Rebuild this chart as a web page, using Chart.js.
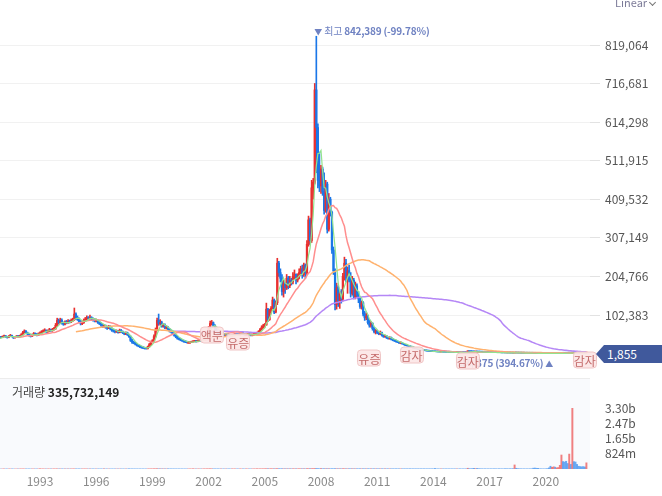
<!DOCTYPE html>
<html><head><meta charset="utf-8">
<script src="https://cdn.jsdelivr.net/npm/chart.js@4.4.1/dist/chart.umd.min.js"></script>
<style>
html,body{margin:0;padding:0;background:#fff;}
#wrap{position:relative;width:662px;height:496px;overflow:hidden;font-family:"Noto Sans CJK KR","Noto Sans",sans-serif;}
canvas{position:absolute;left:0;}
#priceCanvas{top:0;}
#volCanvas{top:378px;}
.ev{position:absolute;background:rgba(252,230,230,0.93);border:1px solid #f0c6c6;border-radius:4px;color:#c46a6a;font-size:12px;line-height:15px;padding:0;transform:translate(-50%,-50%);white-space:nowrap;}
.mark{position:absolute;color:#6f82c2;font-size:10px;line-height:14px;white-space:nowrap;letter-spacing:-0.2px;}
.mark b{font-weight:700;}
.mark i{font-style:normal;font-size:8px;}
#tag{position:absolute;left:596px;width:66px;height:18px;background:#40599c;color:#fff;font-size:12px;line-height:18px;box-sizing:border-box;padding-left:11px;clip-path:polygon(0 50%,8px 0,100% 0,100% 100%,8px 100%);}
#lin{position:absolute;left:615px;top:-5px;font-size:11px;line-height:14px;color:#7c7b98;}
#chev{position:absolute;left:650px;top:0px;width:4px;height:4px;border-right:1.2px solid #777;border-bottom:1.2px solid #777;transform:rotate(45deg);}
#volTitle{position:absolute;left:12px;top:384px;font-size:12px;line-height:16px;color:#444;}
#volTitle b{color:#222;}
</style></head>
<body>
<div id="wrap">
<canvas id="priceCanvas" width="662" height="378"></canvas>
<canvas id="volCanvas" width="662" height="118"></canvas>
<div id="lin">Linear</div><div id="chev"></div>
</div>
<script>
// ---- data (monthly, Jan 1990 .. Mar 2022) ----
const startYear = 1990;
const opens = [
47000,48000,46000,44000,42000,40000,41000,39000,38000,40000,42000,44000,
43000,45000,47000,44000,43000,46000,48000,45000,42000,44000,46000,45000,
47000,50000,56000,60000,55000,52000,48000,46000,50000,53000,51000,49000,
52000,55000,58000,60000,62000,58000,60000,63000,61000,64000,66000,75000,
88000,82000,88000,80000,78000,84000,82000,86000,84000,88000,90000,105000,
95000,92000,85000,80000,82000,88000,92000,95000,94000,96000,92000,90000,
88000,88000,84000,80000,76000,72000,74000,70000,68000,72000,66000,62000,
60000,58000,60000,56000,62000,58000,55000,52000,55000,50000,45000,35000,
30000,28000,25000,22000,20000,18000,16000,15000,14000,13000,18000,24000,
30000,34000,45000,62000,88000,80000,82000,72000,76000,68000,70000,64000,
60000,58000,52000,48000,44000,40000,38000,36000,34000,32000,31000,30000,
30000,30000,31000,32000,33000,32000,34000,35000,34000,38000,44000,50000,
55000,68000,80000,82000,75000,65000,58000,55000,52000,54000,52000,50000,
52000,50000,48000,47000,49000,50000,52000,51000,50000,52000,53000,52000,
50000,50000,51000,50000,49000,50000,52000,53000,55000,58000,64000,70000,
74000,76000,118000,90000,115000,120000,142000,110000,135000,240000,215000,200000,
165000,185000,175000,200000,180000,195000,190000,205000,210000,195000,205000,215000,
225000,210000,235000,215000,290000,355000,300000,440000,455000,700000,600000,460000,
445000,490000,430000,380000,450000,330000,410000,375000,275000,220000,130000,175000,
140000,160000,145000,205000,240000,200000,220000,195000,160000,195000,150000,180000,
155000,145000,125000,135000,105000,95000,100000,82000,75000,80000,66000,58000,
60000,55000,52000,56000,48000,45000,47000,42000,40000,43000,38000,36000,
34000,32000,30000,28000,29000,26000,24000,22000,21000,19000,18000,17000,
15000,14000,13000,12000,11000,10000,9000,8000,7500,7000,6500,6000,
5500,5200,5000,4800,4500,4300,4400,4200,4000,3900,3800,3600,
3500,3400,3300,3200,3400,3100,3000,2900,2800,2700,5200,5800,
5500,5200,5000,4600,4800,4400,4200,4000,3800,3600,3500,3300,
3200,3100,3000,2800,2700,2600,2500,2400,2300,2200,2100,2000,
1900,1800,1700,1600,1500,2200,1800,1600,1500,1400,1300,1200,
1100,1050,1000,950,900,850,800,750,700,680,650,600,
580,550,500,420,400,450,500,480,520,600,700,900,
880,950,1050,1000,1300,1200,2500,1900,1700,1600,1500,1400,
1300,1900,1600];
const highs = [
50000,49000,47000,45000,43000,43000,42000,40000,42000,44000,46000,46000,
47000,49000,48000,46000,48000,51000,49000,46000,46000,48000,48000,49000,
53000,59000,63000,61000,57000,54000,50000,52000,56000,55000,53000,55000,
58000,61000,63000,66000,63000,63000,67000,65000,67000,70000,80000,94000,
92000,94000,92000,84000,87000,88000,90000,89000,92000,94000,121000,108000,
100000,95000,88000,86000,92000,96000,100000,98000,102000,98000,95000,93000,
92000,90000,87000,83000,79000,77000,76000,73000,75000,74000,69000,65000,
63000,63000,62000,65000,64000,60000,57000,58000,57000,52000,47000,38000,
33000,30000,27000,24000,22000,20000,18000,17000,16000,20000,27000,33000,
37000,50000,68000,94000,105000,90000,86000,80000,79000,74000,72000,67000,
63000,60000,55000,50000,46000,42000,40000,38000,36000,34000,33000,32000,
32000,33000,34000,35000,35000,36000,37000,37000,40000,47000,53000,58000,
72000,86000,88000,84000,77000,67000,60000,57000,56000,56000,54000,54000,
54000,52000,50000,51000,52000,54000,54000,53000,54000,55000,55000,54000,
52000,53000,53000,52000,52000,54000,55000,57000,61000,67000,74000,78000,
80000,134000,120000,118000,125000,150000,145000,140000,253000,245000,225000,210000,
195000,190000,210000,205000,205000,200000,215000,222000,212000,212000,225000,232000,
235000,240000,238000,300000,365000,360000,460000,465000,717000,842389,610000,535000,
500000,495000,480000,460000,455000,425000,415000,378000,283000,225000,187000,180000,
165000,170000,213000,256000,250000,230000,235000,215000,205000,200000,190000,185000,
165000,150000,140000,138000,112000,108000,102000,90000,85000,82000,70000,64000,
62000,58000,60000,57000,50000,49000,48000,44000,45000,44000,40000,38000,
36000,34000,31000,31000,30000,27000,25000,23000,22000,20000,19000,18000,
16000,15000,14000,13000,12000,11000,10000,9000,8000,7500,7000,6500,
5800,5600,5300,5000,4700,4700,4600,4400,4200,4100,4000,3800,
3700,3600,3500,3600,3500,3300,3200,3100,2900,2800,6500,6000,
5800,5600,5200,5100,4900,4600,4300,4100,3900,3700,3600,3400,
3400,3300,3100,3000,2900,2800,2700,2600,2500,2400,2300,2200,
2000,1900,1800,1700,2800,2300,1900,1700,1600,1500,1400,1300,
1150,1100,1050,1000,1000,950,850,800,760,720,700,650,
600,580,520,450,480,530,520,560,650,760,1000,950,
950,1000,1100,1500,1350,3500,2600,2000,1800,1700,1550,1450,
1350,2000,2100];
const lows = [
45000,45000,43000,41000,39000,39000,38000,36000,37000,39000,41000,42000,
42000,44000,43000,41000,42000,45000,44000,40000,41000,43000,44000,44000,
46000,49000,54000,53000,50000,46000,44000,45000,49000,49000,47000,48000,
50000,53000,56000,58000,56000,56000,58000,59000,59000,62000,64000,73000,
78000,80000,78000,75000,76000,79000,80000,81000,82000,85000,88000,90000,
88000,82000,76000,77000,80000,85000,89000,90000,91000,89000,86000,84000,
84000,80000,77000,73000,69000,69000,67000,64000,66000,63000,59000,57000,
55000,56000,54000,55000,56000,53000,50000,50000,48000,43000,32000,27000,
26000,23000,20000,18000,16000,14000,13000,12000,12000,12000,17000,22000,
28000,32000,43000,60000,75000,76000,70000,70000,66000,65000,62000,57000,
55000,50000,46000,42000,38000,36000,34000,32000,30000,29000,28000,28000,
28000,29000,30000,31000,30000,31000,33000,32000,33000,37000,42000,48000,
53000,65000,76000,72000,63000,56000,53000,50000,50000,50000,48000,48000,
48000,46000,45000,45000,47000,48000,49000,48000,48000,50000,50000,48000,
48000,48000,49000,47000,47000,48000,50000,51000,53000,56000,62000,67000,
70000,75000,85000,88000,108000,116000,106000,108000,130000,205000,190000,155000,
150000,160000,170000,172000,175000,182000,185000,198000,185000,190000,198000,208000,
200000,205000,200000,210000,285000,290000,295000,410000,450000,480000,440000,430000,
425000,420000,370000,375000,320000,325000,365000,266000,210000,116000,118000,125000,
120000,134000,140000,195000,190000,160000,190000,150000,155000,145000,145000,150000,
135000,120000,118000,100000,88000,90000,78000,70000,70000,62000,55000,52000,
53000,50000,50000,46000,43000,43000,40000,38000,38000,36000,34000,32000,
30000,29000,27000,26000,25000,23000,21000,20000,18000,17000,16000,14000,
13000,12000,11000,10000,9000,8000,7500,7000,6500,6000,5500,5200,
5000,4800,4600,4300,4100,4200,4000,3800,3700,3600,3400,3300,
3300,3200,3100,3100,3000,2900,2800,2700,2600,2500,5000,5300,
5000,4800,4400,4500,4200,4000,3800,3600,3400,3300,3100,3000,
3000,2900,2700,2600,2500,2400,2300,2200,2100,2000,1900,1800,
1700,1600,1500,1400,1450,1700,1500,1400,1300,1200,1100,1000,
1000,950,900,850,800,750,700,650,640,620,580,560,
530,480,375,390,390,440,460,470,510,590,690,780,
800,850,950,980,1150,1150,1800,1650,1550,1450,1350,1250,
1100,1500,1550];
const closes = [
48000,46000,44000,42000,40000,41000,39000,38000,40000,42000,44000,43000,
45000,47000,44000,43000,46000,48000,45000,42000,44000,46000,45000,47000,
50000,56000,60000,55000,52000,48000,46000,50000,53000,51000,49000,52000,
55000,58000,60000,62000,58000,60000,63000,61000,64000,66000,75000,88000,
82000,88000,80000,78000,84000,82000,86000,84000,88000,90000,105000,95000,
92000,85000,80000,82000,88000,92000,95000,94000,96000,92000,90000,88000,
88000,84000,80000,76000,72000,74000,70000,68000,72000,66000,62000,60000,
58000,60000,56000,62000,58000,55000,52000,55000,50000,45000,35000,30000,
28000,25000,22000,20000,18000,16000,15000,14000,13000,18000,24000,30000,
34000,45000,62000,88000,80000,82000,72000,76000,68000,70000,64000,60000,
58000,52000,48000,44000,40000,38000,36000,34000,32000,31000,30000,30000,
30000,31000,32000,33000,32000,34000,35000,34000,38000,44000,50000,55000,
68000,80000,82000,75000,65000,58000,55000,52000,54000,52000,50000,52000,
50000,48000,47000,49000,50000,52000,51000,50000,52000,53000,52000,50000,
50000,51000,50000,49000,50000,52000,53000,55000,58000,64000,70000,74000,
76000,118000,90000,115000,120000,142000,110000,135000,240000,215000,200000,165000,
185000,175000,200000,180000,195000,190000,205000,210000,195000,205000,215000,225000,
210000,235000,215000,290000,355000,300000,440000,455000,700000,600000,460000,445000,
490000,430000,380000,450000,330000,410000,375000,275000,220000,130000,175000,140000,
160000,145000,205000,240000,200000,220000,195000,160000,195000,150000,180000,155000,
145000,125000,135000,105000,95000,100000,82000,75000,80000,66000,58000,60000,
55000,52000,56000,48000,45000,47000,42000,40000,43000,38000,36000,34000,
32000,30000,28000,29000,26000,24000,22000,21000,19000,18000,17000,15000,
14000,13000,12000,11000,10000,9000,8000,7500,7000,6500,6000,5500,
5200,5000,4800,4500,4300,4400,4200,4000,3900,3800,3600,3500,
3400,3300,3200,3400,3100,3000,2900,2800,2700,2600,5800,5500,
5200,5000,4600,4800,4400,4200,4000,3800,3600,3500,3300,3200,
3100,3000,2800,2700,2600,2500,2400,2300,2200,2100,2000,1900,
1800,1700,1600,1500,2200,1800,1600,1500,1400,1300,1200,1100,
1050,1000,950,900,850,800,750,700,680,650,600,580,
550,500,420,400,450,500,480,520,600,700,900,800,
850,900,1000,1300,1200,2500,1900,1700,1600,1500,1400,1300,
1150,1600,1855];
const volumes = [
2.1e6,1.8e6,1.6e6,1.5e6,1.7e6,1.4e6,1.3e6,1.6e6,1.5e6,1.9e6,2.2e6,1.8e6,
1.9e6,2.3e6,1.7e6,1.5e6,2.0e6,2.4e6,1.8e6,1.6e6,1.7e6,2.1e6,1.9e6,2.2e6,
2.5e6,3.1e6,3.4e6,2.6e6,2.2e6,1.9e6,1.8e6,2.3e6,2.6e6,2.1e6,1.9e6,2.4e6,
2.6e6,2.9e6,3.0e6,3.2e6,2.7e6,2.5e6,3.1e6,2.6e6,3.0e6,3.3e6,4.6e6,6.2e6,
5.1e6,5.4e6,4.2e6,3.6e6,4.0e6,3.5e6,3.9e6,3.4e6,3.8e6,4.1e6,6.8e6,5.0e6,
4.4e6,3.9e6,3.5e6,3.2e6,3.6e6,3.9e6,4.1e6,3.6e6,3.8e6,3.4e6,3.1e6,2.9e6,
3.0e6,2.8e6,2.6e6,2.5e6,2.4e6,2.6e6,2.3e6,2.2e6,2.5e6,2.4e6,2.3e6,2.6e6,
2.4e6,2.7e6,2.5e6,3.0e6,2.6e6,2.4e6,2.2e6,2.5e6,2.7e6,3.1e6,4.2e6,4.8e6,
4.0e6,3.5e6,3.1e6,2.8e6,2.9e6,3.2e6,2.7e6,2.6e6,3.0e6,4.4e6,5.6e6,6.3e6,
7.2e6,8.9e6,11.5e6,14.2e6,12.0e6,9.6e6,8.4e6,7.9e6,6.8e6,6.2e6,5.9e6,5.4e6,
5.8e6,5.1e6,4.6e6,4.2e6,3.9e6,3.6e6,3.4e6,3.3e6,3.5e6,3.2e6,3.0e6,2.9e6,
3.1e6,2.9e6,3.0e6,3.3e6,3.1e6,3.4e6,3.2e6,3.0e6,4.1e6,5.2e6,6.0e6,6.6e6,
9.5e6,11.0e6,8.7e6,7.4e6,6.2e6,5.3e6,4.8e6,4.6e6,4.4e6,4.2e6,4.0e6,4.1e6,
3.9e6,3.8e6,3.6e6,3.9e6,4.0e6,4.2e6,3.9e6,3.7e6,4.0e6,4.1e6,3.8e6,3.6e6,
3.7e6,3.9e6,3.6e6,3.5e6,3.8e6,4.2e6,4.4e6,4.9e6,5.6e6,6.8e6,7.7e6,8.5e6,
9.2e6,16.5e6,12.4e6,11.8e6,10.6e6,13.9e6,12.2e6,12.8e6,19.6e6,15.2e6,12.9e6,13.4e6,
12.1e6,10.8e6,11.6e6,10.3e6,10.9e6,9.8e6,10.4e6,10.9e6,9.7e6,10.2e6,11.3e6,11.9e6,
12.6e6,13.1e6,11.4e6,16.8e6,18.9e6,15.5e6,20.4e6,17.2e6,24.6e6,28.3e6,19.4e6,15.8e6,
16.3e6,14.7e6,15.9e6,14.2e6,16.8e6,13.9e6,12.6e6,15.1e6,14.4e6,18.9e6,14.6e6,12.3e6,
12.8e6,11.6e6,14.9e6,15.7e6,13.4e6,12.5e6,11.8e6,12.9e6,12.2e6,11.5e6,10.9e6,10.4e6,
10.8e6,11.9e6,10.5e6,12.7e6,11.4e6,10.6e6,12.1e6,10.8e6,9.9e6,11.2e6,10.7e6,9.8e6,
10.1e6,9.6e6,10.3e6,9.4e6,9.1e6,8.8e6,9.5e6,8.9e6,8.6e6,9.2e6,8.7e6,8.4e6,
8.8e6,8.2e6,7.9e6,8.5e6,7.7e6,7.4e6,7.9e6,7.2e6,7.5e6,7.0e6,6.8e6,7.3e6,
7.6e6,7.1e6,7.4e6,6.9e6,7.2e6,6.8e6,7.5e6,7.0e6,6.7e6,7.1e6,6.9e6,7.4e6,
8.0e6,30e6,6.0e6,5.0e6,4.0e6,6.0e6,5.0e6,4.0e6,5.0e6,6.0e6,4.0e6,5.0e6,
5.0e6,4.0e6,6.0e6,5.0e6,4.0e6,6.0e6,5.0e6,4.0e6,6.0e6,5.0e6,40e6,20e6,
10e6,25e6,35e6,20e6,30e6,15e6,10e6,8e6,6e6,8e6,5e6,6e6,
6e6,8e6,5e6,12e6,6e6,5e6,4e6,8e6,5e6,6e6,15e6,10e6,
8e6,10e6,12e6,15e6,220e6,40e6,20e6,10e6,8e6,6e6,5e6,6e6,
5e6,6e6,8e6,10e6,45e6,50e6,40e6,30e6,10e6,8e6,6e6,5e6,
8e6,20e6,60e6,150e6,90e6,120e6,100e6,60e6,80e6,200e6,760e6,400e6,
380e6,420e6,300e6,810e6,250e6,3297.8e6,400e6,380e6,250e6,150e6,130e6,120e6,
130e6,110e6,335732149];
const yearTickLabels = ['1993','1996','1999','2002','2005','2008','2011','2014','2017','2020'];
const priceTicks = [102383,204766,307149,409532,511915,614298,716681,819064];
const volumeTicks = [824450000,1648900000,2473350000,3297800000];
const volumeTickLabels = ['824m','1.65b','2.47b','3.30b'];
const maPeriods = [5,20,60,120];
const eventMonths = [146,163,247,274,310,385];
const eventLabels = ['액분','유증','유증','감자','감자','감자'];

// ---- styling / layout ----
const FONT = '"Noto Sans CJK KR","Noto Sans",sans-serif';
Chart.defaults.font.family = FONT;
const X_MIN = 10.38, X_MAX = 388.3;
const UP = '#e8302f', DOWN = '#1a77e8';
const UP_V = 'rgba(238,96,96,0.8)', DOWN_V = 'rgba(74,150,240,0.8)';
const maColors = ['#92e38d','#ff8e8e','#ffb26e','#b587f6'];
const maWidths = [1.2, 1.5, 1.5, 1.5];
const eventY = [334.5,342,357.5,355,361,360];

const idx = closes.map((_, i) => i);
const isUp = i => closes[i] >= opens[i];
const candleColors = idx.map(i => isUp(i) ? UP : DOWN);
const volColors = idx.map(i => isUp(i) ? UP_V : DOWN_V);
function sma(arr, n) {
  return arr.map((_, i) => {
    if (i < n - 1) return null;
    let s = 0; for (let k = i - n + 1; k <= i; k++) s += arr[k];
    return s / n;
  });
}
const yearTickValues = yearTickLabels.map(y => (Number(y) - startYear) * 12);

const maSets = maPeriods.map((p, k) => ({
  type: 'line', label: 'MA' + p,
  data: sma(closes, p).map((v, i) => ({x: i, y: v})),
  borderColor: maColors[k], borderWidth: maWidths[k], pointRadius: 0, fill: false, tension: 0, order: 1
}));

const priceChart = new Chart(document.getElementById('priceCanvas'), {
  type: 'bar',
  data: { datasets: [
    ...maSets,
    { label: 'body', data: idx.map(i => ({x: i, y: [opens[i], closes[i]]})), backgroundColor: candleColors,
      barThickness: 1.6, grouped: false, minBarLength: 1, borderWidth: 0, order: 2 },
    { label: 'wick', data: idx.map(i => ({x: i, y: [lows[i], highs[i]]})), backgroundColor: candleColors,
      barThickness: 1, grouped: false, borderWidth: 0, order: 3 }
  ]},
  options: {
    responsive: false, animation: false, events: [],
    layout: { padding: 0 },
    plugins: { legend: { display: false }, tooltip: { enabled: false } },
    scales: {
      x: { type: 'linear', min: X_MIN, max: X_MAX, offset: false, display: false },
      y: { position: 'right', min: -64800, max: 938600,
        afterBuildTicks: s => { s.ticks = priceTicks.map(v => ({value: v})); },
        afterFit: s => { s.width = 72; s.paddingTop = 0; s.paddingBottom = 0; },
        grid: { color: '#f1f1f1', drawTicks: true, tickLength: 10, tickColor: '#e2e2e2' },
        border: { display: false },
        ticks: { padding: 5, color: '#555', font: { size: 12 }, callback: v => Number(v).toLocaleString('en-US') }
      }
    }
  }
});

const volBg = {
  id: 'volBg',
  beforeDraw(chart) {
    const {ctx, chartArea: a} = chart;
    ctx.save();
    ctx.fillStyle = '#f9fafd';
    ctx.fillRect(a.left, a.top, a.right - a.left, a.bottom - a.top);
    ctx.fillStyle = '#ececec';
    ctx.fillRect(a.left, a.top, a.right - a.left, 1);
    ctx.restore();
  }
};

const maxVol = Math.max(...volumes);
const volChart = new Chart(document.getElementById('volCanvas'), {
  type: 'bar',
  data: { datasets: [
    { label: 'vol', data: idx.map(i => ({x: i, y: volumes[i]})), backgroundColor: volColors,
      barThickness: 1.3, grouped: false, borderWidth: 0 }
  ]},
  options: {
    responsive: false, animation: false, events: [],
    layout: { padding: 0 },
    plugins: { legend: { display: false }, tooltip: { enabled: false } },
    scales: {
      x: { type: 'linear', min: X_MIN, max: X_MAX, offset: false,
        afterBuildTicks: s => { s.ticks = yearTickValues.map(v => ({value: v})); },
        afterFit: s => { s.height = 27; s.paddingLeft = 0; s.paddingRight = 0; },
        grid: { display: false, drawTicks: false },
        border: { display: false },
        ticks: { autoSkip: false, maxRotation: 0, padding: 5, color: '#8a8a8a', font: { size: 12 },
          callback: v => yearTickLabels[yearTickValues.indexOf(v)] }
      },
      y: { position: 'right', min: 0, max: maxVol * 1.5,
        afterBuildTicks: s => { s.ticks = volumeTicks.map(v => ({value: v})); },
        afterFit: s => { s.width = 72; s.paddingTop = 0; s.paddingBottom = 0; },
        grid: { display: false, drawTicks: false },
        border: { display: false },
        ticks: { padding: 15, color: '#555', font: { size: 12 },
          callback: v => volumeTickLabels[volumeTicks.indexOf(v)] }
      }
    }
  },
  plugins: [volBg]
});

// ---- overlays (positions from the chart scales) ----
const wrap = document.getElementById('wrap');
const xs = priceChart.scales.x, ys = priceChart.scales.y;
function add(cls, html, style) {
  const d = document.createElement('div');
  if (cls) d.className = cls;
  d.innerHTML = html;
  Object.assign(d.style, style);
  wrap.appendChild(d);
  return d;
}
const last = closes[closes.length - 1];
const hiVal = Math.max(...highs), hiIdx = highs.indexOf(hiVal);
const loVal = Math.min(...lows), loIdx = lows.indexOf(loVal);
const fmt = v => v.toLocaleString('en-US');
const pct = v => ((last / v - 1) * 100).toFixed(2) + '%';
add('mark', '<i>▼</i> 최고 <b>' + fmt(hiVal) + ' (' + pct(hiVal) + ')</b>',
  { left: (xs.getPixelForValue(hiIdx) - 2) + 'px', top: (ys.getPixelForValue(hiVal) - 12) + 'px' });
const lo = add('mark', '최저 <b>' + fmt(loVal) + ' (' + pct(loVal) + ')</b> <i>▲</i>',
  { top: '356px' });
lo.style.left = (xs.getPixelForValue(loIdx) + 4 - lo.offsetWidth) + 'px';
eventMonths.forEach((m, k) => {
  add('ev', eventLabels[k], { left: xs.getPixelForValue(m) + 'px', top: eventY[k] + 'px' });
});
const tag = add('', fmt(last), { top: (ys.getPixelForValue(last) - 8) + 'px' });
tag.id = 'tag';
add('', '거래량 <b>' + fmt(volumes[volumes.length - 1]) + '</b>', {}).id = 'volTitle';
</script>
</body></html>
